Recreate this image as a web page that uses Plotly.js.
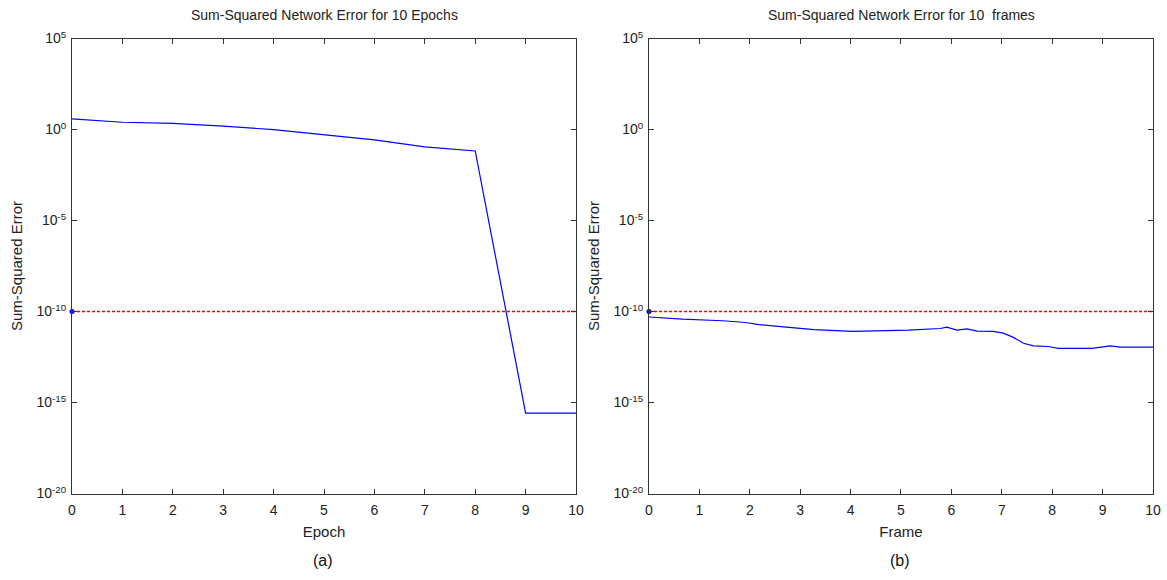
<!DOCTYPE html>
<html>
<head>
<meta charset="utf-8">
<script src="https://cdn.plot.ly/plotly-3.0.1.min.js"></script>
<style>html,body{margin:0;padding:0;background:#fff;}#chart{width:1167px;height:580px;}</style>
</head>
<body>
<div id="chart"></div>
<script>
// ---- data ----
const epochs = [0, 1, 2, 3, 4, 5, 6, 7, 8, 9, 10];
const epochError = [3.8, 2.5, 2.2, 1.55, 0.98, 0.50, 0.27, 0.11, 0.066, 2.6e-16, 2.6e-16];

const frames = [0, 0.67, 1.46, 1.92, 2.18, 2.77, 3.27, 4.04, 5.15, 5.78, 5.91, 6.11, 6.31, 6.51, 6.83, 7.03, 7.23, 7.43, 7.63, 7.92, 8.12, 8.79, 9.15, 9.35, 10];
const frameError = [5.0e-11, 3.8e-11, 3.1e-11, 2.5e-11, 1.9e-11, 1.35e-11, 1.0e-11, 8.1e-12, 9.5e-12, 1.17e-11, 1.38e-11, 9.5e-12, 1.12e-11, 8.3e-12, 8.1e-12, 6.5e-12, 3.8e-12, 1.8e-12, 1.3e-12, 1.2e-12, 9.5e-13, 9.5e-13, 1.3e-12, 1.1e-12, 1.1e-12];

const goal = 1e-10;
const goalX = [0, 10];

const xTickVals = [0, 1, 2, 3, 4, 5, 6, 7, 8, 9, 10];
const yTickVals = [1e5, 1e0, 1e-5, 1e-10, 1e-15, 1e-20];
const yTickText = ['10<sup>5</sup>', '10<sup>0</sup>', '10<sup>-5</sup>', '10<sup>-10</sup>', '10<sup>-15</sup>', '10<sup>-20</sup>'];

const titles = ['Sum-Squared Network Error for 10 Epochs', 'Sum-Squared Network Error for 10  frames'];
const xTitles = ['Epoch', 'Frame'];
const yTitle = 'Sum-Squared Error';
const captions = ['(a)', '(b)'];

// ---- styling ----
const FONT = 'Liberation Sans, Arial, sans-serif';
const blue = '#0000ff';
const red = '#ff0000';

function traces(xa, ya, xs, ys) {
  return [
    {x: goalX, y: [goal, goal], type: 'scatter', mode: 'lines', xaxis: xa, yaxis: ya,
     line: {color: red, width: 1.3, dash: '3px,2px'}, hoverinfo: 'skip'},
    {x: xs, y: ys, type: 'scatter', mode: 'lines', xaxis: xa, yaxis: ya,
     line: {color: blue, width: 1.2}, hoverinfo: 'skip'},
    {x: [0], y: [goal], type: 'scatter', mode: 'markers', xaxis: xa, yaxis: ya,
     marker: {color: blue, size: 5}, cliponaxis: false, hoverinfo: 'skip'}
  ];
}

const data = [].concat(
  traces('x', 'y', epochs, epochError),
  traces('x2', 'y2', frames, frameError)
);

function xaxis(domain, title, anchor) {
  return {
    domain: domain, anchor: anchor, range: [0, 10], tickvals: xTickVals,
    ticks: 'inside', ticklen: 5, tickcolor: '#333', tickwidth: 1,
    showline: true, linecolor: '#333', linewidth: 1, mirror: 'ticks',
    showgrid: false, zeroline: false, ticklabelstandoff: 4,
    tickfont: {family: FONT, size: 14, color: '#222'},
    title: {text: title, font: {family: FONT, size: 15, color: '#222'}, standoff: 9},
    automargin: false, fixedrange: true
  };
}
function yaxis(anchor) {
  return {
    domain: [0.1491, 0.9336], anchor: anchor, type: 'log', range: [-20, 5],
    tickvals: yTickVals, ticktext: yTickText,
    ticks: 'inside', ticklen: 5, tickcolor: '#333', tickwidth: 1,
    showline: true, linecolor: '#333', linewidth: 1, mirror: 'ticks',
    showgrid: false, zeroline: false, ticklabelstandoff: 2,
    tickfont: {family: FONT, size: 14, color: '#222'},
    title: {text: yTitle, font: {family: FONT, size: 15, color: '#222'}, standoff: 10},
    automargin: false, fixedrange: true
  };
}

const layout = {
  width: 1167, height: 580,
  margin: {l: 0, r: 0, t: 0, b: 0},
  paper_bgcolor: '#fff', plot_bgcolor: '#fff',
  showlegend: false,
  xaxis: xaxis([0.0617, 0.4936], xTitles[0], 'y'),
  yaxis: yaxis('x'),
  xaxis2: xaxis([0.5561, 0.9880], xTitles[1], 'y2'),
  yaxis2: yaxis('x2'),
  annotations: [
    {text: titles[0], xref: 'paper', yref: 'paper', x: 324/1167, y: 1 - 15/580, showarrow: false,
     font: {family: FONT, size: 14, color: '#222'}, xanchor: 'center', yanchor: 'middle'},
    {text: titles[1], xref: 'paper', yref: 'paper', x: 901/1167, y: 1 - 15/580, showarrow: false,
     font: {family: FONT, size: 14, color: '#222'}, xanchor: 'center', yanchor: 'middle'},
    {text: captions[0], xref: 'paper', yref: 'paper', x: 323/1167, y: 1 - 560/580, showarrow: false,
     font: {family: FONT, size: 16, color: '#111'}, xanchor: 'center', yanchor: 'middle'},
    {text: captions[1], xref: 'paper', yref: 'paper', x: 900/1167, y: 1 - 560/580, showarrow: false,
     font: {family: FONT, size: 16, color: '#111'}, xanchor: 'center', yanchor: 'middle'}
  ]
};

Plotly.newPlot('chart', data, layout, {staticPlot: true, displayModeBar: false});
</script>
</body>
</html>
